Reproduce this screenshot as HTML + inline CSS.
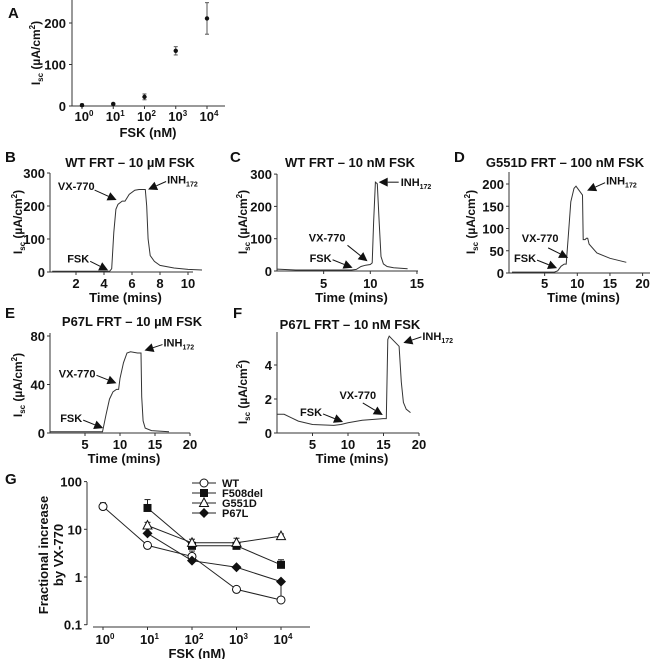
<!DOCTYPE html>
<html><head><meta charset="utf-8">
<style>
html,body{margin:0;padding:0;background:#fff;}
svg{display:block;font-family:"Liberation Sans",Arial,sans-serif;font-weight:bold;}
</style></head>
<body>
<svg id="fig" width="660" height="659" viewBox="0 0 660 659" xmlns="http://www.w3.org/2000/svg"></svg>
<script>
// ---- Panel A data ----
const aConc=[1,10,100,1000,10000];
const aMean=[2,5,22,133,211];
const aErr=[3,2,7,10,38];
const aYTicks=[0,100,200];
// ---- Panel B ----
const bTime=[0.3,2,4.4,4.55,4.7,4.85,5.0,5.3,5.5,5.8,6.2,6.5,6.95,7.05,7.15,7.3,7.6,8,9,10,11];
const bIsc=[2,2,2,10,120,190,205,215,215,235,248,250,250,200,100,50,32,20,12,8,6];
const bYTicks=[0,100,200,300];
const bXTicks=[2,4,6,8,10];
// ---- Panel C ----
const cTime=[0,2,6,8,8.5,9,9.5,10,10.2,10.35,10.55,10.75,10.95,11.15,11.4,11.8,12.5,14];
const cIsc=[6,3,3,3,5,14,18,20,25,150,275,270,150,45,22,14,10,7];
const cYTicks=[0,100,200,300];
const cXTicks=[5,10,15];
// ---- Panel D ----
const dTime=[0,6.5,7,7.5,8,8.3,8.6,9,9.5,9.8,10.3,10.8,10.9,11.2,11.4,11.6,11.8,13,15,17.5];
const dIsc=[2,2,5,15,20,20,80,160,190,195,185,175,75,75,78,78,65,45,33,24];
const dYTicks=[0,50,100,150,200];
const dXTicks=[5,10,15,20];
// ---- Panel E ----
const eTime=[0,7,7.5,8,8.5,9,9.5,9.8,10,10.5,11,11.5,12.5,13,13.1,13.3,13.6,14.5,17];
const eIsc=[1,1,1,15,28,34,36,36,45,58,66,67,66,66,30,10,4,2,1];
const eYTicks=[0,40,80];
const eXTicks=[5,10,15,20];
// ---- Panel F ----
const fTime=[0,1,2,3,5,8,9,10,12,15,15.4,15.6,15.8,16.5,17.2,17.5,17.8,18.2,18.8];
const fIsc=[1.1,1.1,0.9,0.7,0.5,0.45,0.5,0.6,0.75,0.85,0.85,5.5,5.7,5.4,5.1,3,1.8,1.4,1.2];
const fYTicks=[0,2,4];
const fXTicks=[5,10,15,20];
// ---- Panel G ----
const gConc=[1,10,100,1000,10000];
const wtVals=[30,4.6,2.7,0.55,0.33];
const wtErr=[36,null,3.5,null,0.75];
const f508Vals=[null,28,4.5,4.5,1.8];
const f508Err=[null,42,null,null,2.3];
const g551Vals=[null,12,5.2,5.2,7.2];
const g551Err=[null,14,6.2,6.5,8];
const p67Vals=[null,8.2,2.2,1.6,0.8];
const p67Err=[null,null,null,null,null];
const gYTicks=[0.1,1,10,100];
const gYLabels=['0.1','1','10','100'];

const NS='http://www.w3.org/2000/svg';
const svg=document.getElementById('fig');
function mk(tag,attrs,name,parent){
  const el=document.createElementNS(NS,tag);
  for(const k in attrs) el.setAttribute(k,attrs[k]);
  
  
  (parent||svg).appendChild(el);
  return el;
}
function txt(x,y,html,name,size,anchor,extra){
  const a=Object.assign({x:x,y:y,'font-size':size||12,'text-anchor':anchor||'middle',fill:'#111'},extra||{});
  const t=mk('text',a,name);
  t.innerHTML=html;
  return t;
}
const ISC='I<tspan font-size="8" dy="3">sc</tspan><tspan dy="-3"> (µA/cm</tspan><tspan font-size="8" dy="-5">2</tspan><tspan dy="5">)</tspan>';
const INH='INH<tspan font-size="7" dy="3">172</tspan>';
function pow10(n){return '10<tspan font-size="8" dy="-5">'+n+'</tspan>';}
function ln(x1,y1,x2,y2,name,w,c){return mk('line',{x1:x1,y1:y1,x2:x2,y2:y2,stroke:c||'#333','stroke-width':w||1},name);}
function ylabel(x,y,html,name){txt(x,y,html,name,12,'middle',{transform:'rotate(-90 '+x+' '+y+')'});}

function arrow(tx,ty,dx,dy,name){
  const L=Math.hypot(dx,dy), ux=-dx/L, uy=-dy/L;
  const bx=tx-ux*9, by=ty-uy*9;
  ln(tx+dx,ty+dy,bx,by,name+'-line',1,'#111');
  const px=-uy*4.5, py=ux*4.5;
  mk('polygon',{points:tx+','+ty+' '+(bx+px)+','+(by+py)+' '+(bx-px)+','+(by-py),fill:'#111'},name+'-head');
}

function tracePanel(p){
  ln(p.ax,p.yTop,p.ax,p.ay,p.id+'-y-axis');
  ln(p.ax,p.ay,p.xEnd,p.ay,p.id+'-x-axis');
  p.yT.forEach(v=>{const y=p.sy(v);ln(p.ax-3,y,p.ax,y,p.id+'-y-tick');txt(p.ax-5,y+5,String(v),p.id+'-y-tick-label',13,'end');});
  p.xT.forEach(v=>{const x=p.sx(v);ln(x,p.ay,x,p.ay+3,p.id+'-x-tick');txt(x,p.tickY,String(v),p.id+'-x-tick-label',13);});
  const d=p.t.map((t,i)=>(i?'L':'M')+p.sx(t).toFixed(1)+','+p.sy(p.v[i]).toFixed(1)).join('');
  mk('path',{d:d,fill:'none',stroke:'#333','stroke-width':1},p.id+'-trace');
  txt((p.ax+p.xEnd)/2+4,p.tickY+14,'Time (mins)',p.id+'-x-axis-title',13);
}

// ---------- Panel A ----------
(function(){
  const sx=c=>82+Math.log10(c)*31.25, sy=v=>106-v*0.415;
  txt(8,18,'A','panel-a-label',15,'start');
  ln(72,0,72,106,'a-y-axis'); ln(72,106,225,106,'a-x-axis');
  aYTicks.forEach(v=>{const y=sy(v);ln(69,y,72,y,'a-y-tick');txt(66,y+5,String(v),'a-y-tick-label',13,'end');});
  aConc.forEach((c,i)=>{const x=sx(c);ln(x,106,x,109,'a-x-tick');txt(x+2,121,pow10(i),'a-x-tick-label',13);});
  aConc.forEach((c,i)=>{const x=sx(c);
    ln(x,sy(aMean[i]+aErr[i]),x,sy(aMean[i]-aErr[i]),'a-error-bar',1,'#555');
    ln(x-2,sy(aMean[i]+aErr[i]),x+2,sy(aMean[i]+aErr[i]),'a-error-cap',1,'#555');
    ln(x-2,sy(aMean[i]-aErr[i]),x+2,sy(aMean[i]-aErr[i]),'a-error-cap',1,'#555');
    mk('circle',{cx:x,cy:sy(aMean[i]),r:2.2,fill:'#111'},'a-point');});
  ylabel(40,53,ISC,'a-y-axis-title');
  txt(148,137,'FSK (nM)','a-x-axis-title',13);
})();

// ---------- Panels B-F ----------
txt(5,162,'B','panel-b-label',15,'start');
txt(130,167,'WT FRT – 10 µM FSK','panel-b-title',13);
tracePanel({id:'b',ax:50,ay:272,yTop:173,xEnd:193,sx:t=>48+t*14,sy:v=>272-v*0.33,yT:bYTicks,xT:bXTicks,t:bTime,v:bIsc,tickY:288});
ylabel(22,222,ISC,'b-y-axis-title');
(function(){const sx=t=>48+t*14,sy=v=>272-v*0.33;
  arrow(sx(4.3),sy(5),-18,-9,'b-fsk-arrow');txt(sx(4.3)-19,sy(5)-8,'FSK','b-fsk-label',11,'end');
  arrow(sx(4.9),sy(218),-22,-10,'b-vx770-arrow');txt(sx(4.9)-22,sy(218)-10,'VX-770','b-vx770-label',11,'end');
  arrow(sx(7.15),sy(250),18,-8,'b-inh-arrow');txt(sx(7.15)+19,sy(250)-6,INH,'b-inh-label',11,'start');})();

txt(230,162,'C','panel-c-label',15,'start');
txt(350,167,'WT FRT – 10 nM FSK','panel-c-title',13);
tracePanel({id:'c',ax:277,ay:271,yTop:174,xEnd:418,sx:t=>277+t*9.33,sy:v=>271-v*0.323,yT:cYTicks,xT:cXTicks,t:cTime,v:cIsc,tickY:288});
ylabel(247,222,ISC,'c-y-axis-title');
(function(){const sx=t=>277+t*9.33,sy=v=>271-v*0.323;
  arrow(sx(8.1),sy(10),-20,-8,'c-fsk-arrow');txt(sx(8.1)-21,sy(10)-6,'FSK','c-fsk-label',11,'end');
  arrow(sx(9.7),sy(30),-20,-16,'c-vx770-arrow');txt(sx(9.7)-22,sy(30)-20,'VX-770','c-vx770-label',11,'end');
  arrow(sx(10.9),sy(275),20,0,'c-inh-arrow');txt(sx(10.9)+22,sy(275)+4,INH,'c-inh-label',11,'start');})();

txt(454,162,'D','panel-d-label',15,'start');
txt(565,167,'G551D FRT – 100 nM FSK','panel-d-title',13);
tracePanel({id:'d',ax:509,ay:273,yTop:172,xEnd:650,sx:t=>512+t*6.53,sy:v=>273-v*0.445,yT:dYTicks,xT:dXTicks,t:dTime,v:dIsc,tickY:288});
ylabel(475,222,ISC,'d-y-axis-title');
(function(){const sx=t=>512+t*6.53,sy=v=>273-v*0.445;
  arrow(sx(6.9),sy(11),-20,-8,'d-fsk-arrow');txt(sx(6.9)-21,sy(11)-6,'FSK','d-fsk-label',11,'end');
  arrow(sx(8.6),sy(34),-20,-10,'d-vx770-arrow');txt(sx(8.6)-28,sy(34)-16,'VX-770','d-vx770-label',11,'middle');
  arrow(sx(11.5),sy(185),18,-8,'d-inh-arrow');txt(sx(11.5)+19,sy(185)-6,INH,'d-inh-label',11,'start');})();

txt(5,318,'E','panel-e-label',15,'start');
txt(132,326,'P67L FRT – 10 µM FSK','panel-e-title',13);
tracePanel({id:'e',ax:50,ay:433,yTop:333,xEnd:190,sx:t=>50+t*7,sy:v=>433-v*1.2125,yT:eYTicks,xT:eXTicks,t:eTime,v:eIsc,tickY:449});
ylabel(22,385,ISC,'e-y-axis-title');
(function(){const sx=t=>50+t*7,sy=v=>433-v*1.2125;
  arrow(sx(7.6),sy(4),-20,-8,'e-fsk-arrow');txt(sx(7.6)-21,sy(4)-6,'FSK','e-fsk-label',11,'end');
  arrow(sx(9.5),sy(41),-20,-8,'e-vx770-arrow');txt(sx(9.5)-21,sy(41)-6,'VX-770','e-vx770-label',11,'end');
  arrow(sx(13.5),sy(68),18,-6,'e-inh-arrow');txt(sx(13.5)+19,sy(68)-4,INH,'e-inh-label',11,'start');})();

txt(233,318,'F','panel-f-label',15,'start');
txt(350,329,'P67L FRT – 10 nM FSK','panel-f-title',13);
tracePanel({id:'f',ax:277,ay:433,yTop:332,xEnd:419,sx:t=>277+t*7.1,sy:v=>433-v*17,yT:fYTicks,xT:fXTicks,t:fTime,v:fIsc,tickY:449});
ylabel(247,392,ISC,'f-y-axis-title');
(function(){const sx=t=>277+t*7.1,sy=v=>433-v*17;
  arrow(sx(9.3),sy(0.65),-20,-8,'f-fsk-arrow');txt(sx(9.3)-21,sy(0.65)-6,'FSK','f-fsk-label',11,'end');
  arrow(sx(14.9),sy(1.06),-20,-12,'f-vx770-arrow');txt(sx(14.9)-25,sy(1.06)-16,'VX-770','f-vx770-label',11,'middle');
  arrow(sx(17.8),sy(5.3),18,-6,'f-inh-arrow');txt(sx(17.8)+19,sy(5.3)-3,INH,'f-inh-label',11,'start');})();

// ---------- Panel G ----------
(function(){
  const sx=c=>103+Math.log10(c)*44.5, sy=v=>577-Math.log10(v)*47.7;
  txt(5,484,'G','panel-g-label',15,'start');
  ln(87,482,87,625,'g-y-axis'); ln(93,627,310,627,'g-x-axis');
  gYTicks.forEach((v,i)=>{const y=sy(v);ln(84,y,87,y,'g-y-tick');txt(82,y+5,gYLabels[i],'g-y-tick-label',13,'end');});
  gConc.forEach((c,i)=>{const x=sx(c);ln(x,627,x,630,'g-x-tick');txt(x+2,644,pow10(i),'g-x-tick-label',13);});
  txt(197,658,'FSK (nM)','g-x-axis-title',13);
  txt(48,555,'Fractional increase','g-y-axis-title',13,'middle',{transform:'rotate(-90 48 555)'});
  txt(63,555,'by VX-770','g-y-axis-title-2',13,'middle',{transform:'rotate(-90 63 555)'});
  function marker(kind,x,y,name){
    if(kind==='circle') return mk('circle',{cx:x,cy:y,r:4,fill:'#fff',stroke:'#111','stroke-width':1},name);
    if(kind==='square') return mk('rect',{x:x-4,y:y-4,width:8,height:8,fill:'#111'},name);
    if(kind==='tri') return mk('polygon',{points:x+','+(y-5)+' '+(x-4.5)+','+(y+3.5)+' '+(x+4.5)+','+(y+3.5),fill:'#fff',stroke:'#111','stroke-width':1},name);
    return mk('polygon',{points:x+','+(y-5)+' '+(x+5)+','+y+' '+x+','+(y+5)+' '+(x-5)+','+y,fill:'#111'},name);
  }
  const series=[
    {n:'wt',label:'WT',v:wtVals,e:wtErr,m:'circle'},
    {n:'f508del',label:'F508del',v:f508Vals,e:f508Err,m:'square'},
    {n:'g551d',label:'G551D',v:g551Vals,e:g551Err,m:'tri'},
    {n:'p67l',label:'P67L',v:p67Vals,e:p67Err,m:'diamond'}];
  series.forEach(s=>{
    s.v.forEach((v,i)=>{ if(v==null||s.e[i]==null) return; const x=sx(gConc[i]);
      ln(x,sy(v),x,sy(s.e[i]),'g-'+s.n+'-error-bar',1,'#222'); ln(x-3,sy(s.e[i]),x+3,sy(s.e[i]),'g-'+s.n+'-error-cap',1,'#222');});
    const pts=[]; s.v.forEach((v,i)=>{if(v!=null) pts.push([sx(gConc[i]),sy(v)]);});
    mk('path',{d:pts.map((p,i)=>(i?'L':'M')+p[0].toFixed(1)+','+p[1].toFixed(1)).join(''),fill:'none',stroke:'#222','stroke-width':1},'g-'+s.n+'-line');
  });
  series.forEach(s=>{ s.v.forEach((v,i)=>{ if(v!=null) marker(s.m,sx(gConc[i]),sy(v),'g-'+s.n+'-point');});});
  const ly=[483,493,503,513];
  series.forEach((s,i)=>{
    ln(192,ly[i],216,ly[i],'legend-'+s.n+'-line',1,'#222');
    marker(s.m,204,ly[i],'legend-'+s.n+'-marker');
    txt(222,ly[i]+4,s.label,'legend-'+s.n+'-label',11,'start');
  });
})();
</script>
</body></html>
